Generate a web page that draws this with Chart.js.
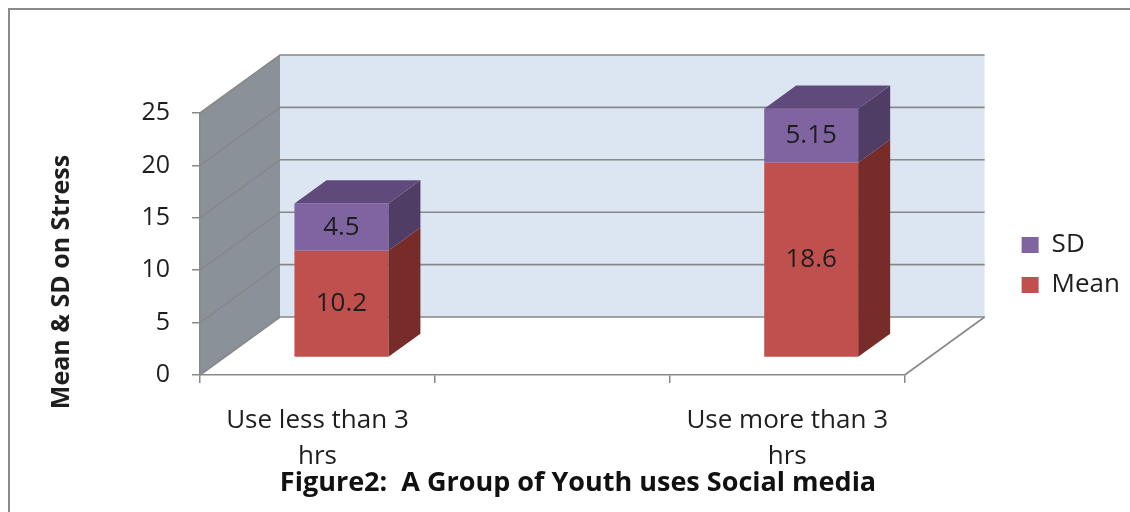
<!DOCTYPE html>
<html><head><meta charset="utf-8">
<script src="https://cdn.jsdelivr.net/npm/chart.js@4.4.1/dist/chart.umd.min.js"></script>
<style>html,body{margin:0;padding:0;background:#fff;} canvas{display:block;}</style>
</head><body>
<canvas id="c" width="1130" height="512"></canvas>
<script>
// ---- data ----
const categories = [['Use less than 3', 'hrs'], '', ['Use more than 3', 'hrs']];
const meanValues = [10.2, null, 18.6];
const sdValues = [4.5, null, 5.15];
const seriesNames = ['Mean', 'SD'];
const yMin = 0, yMax = 25, yStep = 5;
const chartTitle = 'Figure2:  A Group of Youth uses Social media';
const yAxisTitle = 'Mean & SD on Stress';

// ---- style ----
const FONT = "'Open Sans', sans-serif";
const DEPTH_X = 80, DEPTH_Y = -58;
const BAR_FRONT = 0.3, BAR_DEPTH = 0.4;
const GRID = '#888888';
const FACES = [
  { front: '#C0504D', side: '#772C2A', top: '#9A3E3C' },
  { front: '#8064A2', side: '#4F3D66', top: '#604A7B' }
];
const TEXT = '#1e1e1e';
const TITLE_SIZE = 27, TITLE_PAD_BOTTOM = 12;

const excel3d = {
  id: 'excel3d',
  beforeDraw(chart) {
    const { ctx } = chart;
    const xs = chart.scales.x, ys = chart.scales.y;
    ctx.save();
    ctx.strokeStyle = '#8a8a8a'; ctx.lineWidth = 2;
    ctx.beginPath(); ctx.moveTo(9, chart.height); ctx.lineTo(9, 9); ctx.lineTo(chart.width, 9); ctx.stroke();
    const L = xs.left, R = xs.right, T = ys.getPixelForValue(yMax), B = ys.getPixelForValue(yMin);
    // side wall
    ctx.fillStyle = '#8A9199';
    ctx.beginPath(); ctx.moveTo(L, T); ctx.lineTo(L + DEPTH_X, T + DEPTH_Y); ctx.lineTo(L + DEPTH_X, B + DEPTH_Y); ctx.lineTo(L, B); ctx.closePath(); ctx.fill();
    // back wall
    ctx.fillStyle = '#DCE6F2';
    ctx.fillRect(L + DEPTH_X, T + DEPTH_Y, R - L, B - T);
    // floor
    ctx.fillStyle = '#ffffff';
    ctx.beginPath(); ctx.moveTo(L, B); ctx.lineTo(R, B); ctx.lineTo(R + DEPTH_X, B + DEPTH_Y); ctx.lineTo(L + DEPTH_X, B + DEPTH_Y); ctx.closePath(); ctx.fill();
    // grid lines on walls
    ctx.strokeStyle = GRID; ctx.lineWidth = 1.6;
    ys.ticks.forEach(t => {
      const yy = ys.getPixelForValue(t.value);
      ctx.beginPath(); ctx.moveTo(L, yy); ctx.lineTo(L + DEPTH_X, yy + DEPTH_Y); ctx.lineTo(R + DEPTH_X, yy + DEPTH_Y); ctx.stroke();
    });
    ctx.beginPath(); ctx.moveTo(R, B); ctx.lineTo(R + DEPTH_X, B + DEPTH_Y); ctx.stroke();
    ctx.restore();
  },
  beforeDatasetsDraw(chart) {
    chart.ctx.save();
    chart.ctx.translate(DEPTH_X * BAR_FRONT, DEPTH_Y * BAR_FRONT);
  },
  afterDatasetsDraw(chart) {
    const { ctx } = chart;
    const dx = DEPTH_X * BAR_DEPTH, dy = DEPTH_Y * BAR_DEPTH;
    const n = chart.data.labels.length;
    for (let i = 0; i < n; i++) {
      let topDs = -1;
      chart.data.datasets.forEach((ds, d) => { if (ds.data[i] != null) topDs = d; });
      chart.data.datasets.forEach((ds, d) => {
        const v = ds.data[i];
        if (v == null) return;
        const el = chart.getDatasetMeta(d).data[i];
        const { x, y, base, width } = el.getProps(['x', 'y', 'base', 'width'], true);
        const l = x - width / 2, r = x + width / 2, top = Math.min(y, base), bot = Math.max(y, base);
        ctx.fillStyle = FACES[d].side;
        ctx.beginPath(); ctx.moveTo(r, top); ctx.lineTo(r + dx, top + dy); ctx.lineTo(r + dx, bot + dy); ctx.lineTo(r, bot); ctx.closePath(); ctx.fill();
        if (d === topDs) {
          ctx.fillStyle = FACES[d].top;
          ctx.beginPath(); ctx.moveTo(l, top); ctx.lineTo(l + dx, top + dy); ctx.lineTo(r + dx, top + dy); ctx.lineTo(r, top); ctx.closePath(); ctx.fill();
        }
        ctx.fillStyle = TEXT;
        ctx.font = "26px " + FONT;
        ctx.textAlign = 'center'; ctx.textBaseline = 'middle';
        ctx.fillText(String(v), x, (top + bot) / 2);
      });
    }
    ctx.restore();
  },
  afterDraw(chart) {
    const { ctx } = chart;
    ctx.save();
    ctx.translate(62, 282);
    ctx.rotate(-Math.PI / 2);
    ctx.font = "bold 25px " + FONT;
    ctx.fillStyle = TEXT;
    ctx.textAlign = 'center'; ctx.textBaseline = 'middle';
    ctx.fillText(yAxisTitle, 0, 0);
    ctx.restore();
  }
};

new Chart(document.getElementById('c'), {
  type: 'bar',
  data: {
    labels: categories,
    datasets: [
      { label: seriesNames[0], data: meanValues, backgroundColor: FACES[0].front, borderWidth: 0 },
      { label: seriesNames[1], data: sdValues, backgroundColor: FACES[1].front, borderWidth: 0 }
    ]
  },
  options: {
    responsive: false,
    animation: false,
    events: [],
    devicePixelRatio: 1,
    layout: { padding: { left: 26, top: 113, right: 0, bottom: 0 } },
    datasets: { bar: { barPercentage: 0.4, categoryPercentage: 1.0 } },
    scales: {
      x: {
        stacked: true, offset: true,
        grid: { display: true, drawOnChartArea: false, drawTicks: true, tickLength: 8, color: GRID, lineWidth: 1.5, offset: true },
        border: { display: true, color: GRID, width: 1.5 },
        ticks: { color: TEXT, font: { family: FONT, size: 26, lineHeight: 1.385 }, padding: 20, maxRotation: 0, autoSkip: false },
        afterFit(s) { s.height = 512 - 375 - (TITLE_SIZE * 1.2 + TITLE_PAD_BOTTOM); }
      },
      y: {
        stacked: true, min: yMin, max: yMax,
        ticks: { stepSize: yStep, color: TEXT, font: { family: FONT, size: 25 }, padding: 22 },
        grid: { drawOnChartArea: false, drawTicks: true, tickLength: 8, color: GRID, lineWidth: 1.5 },
        border: { display: true, color: GRID, width: 1.5 },
        afterFit(s) { s.width = 174; }
      },
      yR: {
        type: 'linear', position: 'right', display: true,
        grid: { display: false }, border: { display: false }, ticks: { display: false },
        afterFit(s) { s.width = 103; }
      }
    },
    plugins: {
      tooltip: { enabled: false },
      legend: {
        position: 'right', reverse: true, fullSize: false, align: 'center',
        title: { display: true, text: '', padding: { top: 15, bottom: 15 }, font: { size: 10 } },
        labels: { boxWidth: 17, boxHeight: 16, padding: 14, color: TEXT, font: { family: FONT, size: 26 } }
      },
      title: {
        display: true, text: chartTitle, position: 'bottom', color: '#111',
        font: { family: FONT, size: TITLE_SIZE, weight: 'bold', lineHeight: 1.2 },
        padding: { top: 0, bottom: TITLE_PAD_BOTTOM }
      }
    }
  },
  plugins: [excel3d]
});
</script>
</body></html>
